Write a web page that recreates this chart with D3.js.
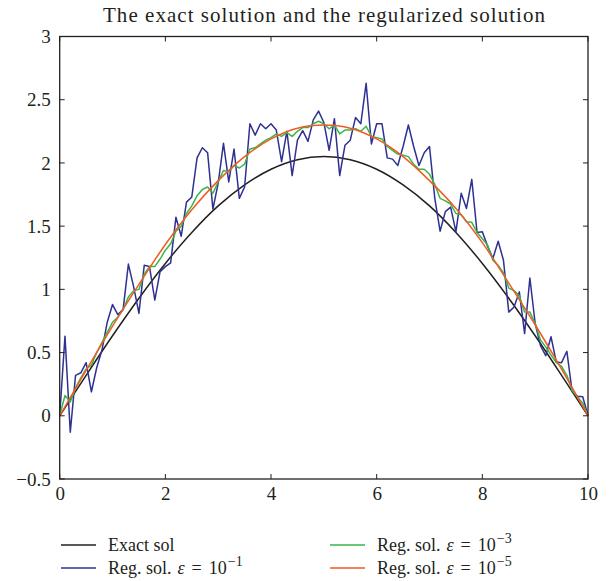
<!DOCTYPE html>
<html>
<head>
<meta charset="utf-8">
<script src="https://cdn.jsdelivr.net/npm/d3@7"></script>
<style>
  html, body { margin: 0; padding: 0; background: #fff; }
  svg { display: block; }
  text { font-family: "Liberation Serif", "DejaVu Serif", serif; fill: #231f20; }
</style>
</head>
<body>
<svg id="chart" width="614" height="581"></svg>
<script>
// Grid of the discrete solutions: x = 0, 0.1, ..., 10
const xFine = d3.range(101).map(i => +(i * 0.1).toFixed(1));
// Grid of the smooth curves: x = 0, 0.5, ..., 10
const xCoarse = d3.range(21).map(i => i * 0.5);

const exactSol = [0, 0.32, 0.633, 0.93, 1.205, 1.45, 1.66, 1.826, 1.95, 2.025, 2.05,
                  2.025, 1.95, 1.826, 1.66, 1.45, 1.205, 0.93, 0.633, 0.32, 0];

const regEps5 = [0, 0.36, 0.71, 1.04, 1.355, 1.63, 1.86, 2.05, 2.19, 2.275, 2.30,
                 2.275, 2.19, 2.05, 1.86, 1.64, 1.37, 1.05, 0.72, 0.37, 0];

const regEps1 = [0, 0.63, -0.13, 0.32, 0.34, 0.42, 0.19, 0.38, 0.52, 0.74,
                 0.88, 0.80, 0.84, 1.20, 1.02, 0.81, 1.19, 1.18, 0.915, 1.14,
                 1.18, 1.21, 1.57, 1.42, 1.69, 1.73, 2.04, 2.12, 2.08, 1.635,
                 1.84, 2.155, 1.85, 2.11, 1.72, 1.81, 2.31, 2.22, 2.31, 2.27,
                 2.31, 2.26, 2.01, 2.25, 1.90, 2.18, 2.255, 2.17, 2.34, 2.41,
                 2.32, 2.10, 2.35, 1.90, 2.14, 2.18, 2.36, 2.31, 2.63, 2.15,
                 2.31, 2.31, 2.04, 2.03, 1.98, 2.13, 2.30, 2.13, 1.98, 2.08,
                 2.13, 1.72, 1.46, 1.615, 1.65, 1.455, 1.76, 1.64, 1.87, 1.45,
                 1.455, 1.34, 1.245, 1.38, 1.23, 0.82, 0.86, 0.98, 0.65, 1.09,
                 0.73, 0.555, 0.475, 0.625, 0.425, 0.42, 0.51, 0.19, 0.155, 0.15,
                 0];

const regEps3 = [0, 0.16, 0.11, 0.22, 0.30, 0.37, 0.40, 0.50, 0.58, 0.66,
                 0.74, 0.78, 0.84, 0.94, 0.99, 1.00, 1.12, 1.18, 1.18, 1.24,
                 1.31, 1.36, 1.46, 1.50, 1.60, 1.66, 1.74, 1.79, 1.81, 1.76,
                 1.85, 1.94, 1.93, 1.98, 1.96, 1.99, 2.11, 2.12, 2.15, 2.18,
                 2.20, 2.23, 2.21, 2.24, 2.21, 2.25, 2.28, 2.28, 2.31, 2.33,
                 2.31, 2.27, 2.30, 2.23, 2.26, 2.26, 2.27, 2.25, 2.29, 2.21,
                 2.20, 2.19, 2.13, 2.10, 2.07, 2.06, 2.05, 1.99, 1.95, 1.95,
                 1.91, 1.83, 1.72, 1.70, 1.675, 1.60, 1.59, 1.535, 1.53, 1.45,
                 1.40, 1.35, 1.23, 1.19, 1.13, 1.01, 0.99, 0.95, 0.82, 0.82,
                 0.73, 0.60, 0.545, 0.48, 0.42, 0.39, 0.32, 0.20, 0.15, 0.10,
                 0];

const xTicks = [0, 2, 4, 6, 8, 10];
const yTicks = [-0.5, 0, 0.5, 1, 1.5, 2, 2.5, 3];

const colors = { exact: "#231f20", eps1: "#2e3192", eps3: "#39b54a", eps5: "#f15a24" };

const svg = d3.select("#chart");
const plot = { left: 59.7, right: 588, top: 36.5, bottom: 479 };

const x = d3.scaleLinear().domain([0, 10]).range([plot.left, plot.right]);
const y = d3.scaleLinear().domain([-0.5, 3]).range([plot.bottom, plot.top]);

const fmt = v => (v < 0 ? "\u2212" + Math.abs(v) : String(v));

// Title
svg.append("text")
  .attr("x", 103)
  .attr("y", 22)
  .attr("textLength", 442)
  .attr("lengthAdjust", "spacing")
  .style("font-size", "21px")
  .text("The exact solution and the regularized solution");

// Curves
const lines = svg.append("g");
const polyline = d3.line().x(d => x(d[0])).y(d => y(d[1]));
const smooth = d3.line().curve(d3.curveCatmullRom.alpha(0.5)).x(d => x(d[0])).y(d => y(d[1]));

lines.append("path")
  .attr("d", smooth(d3.zip(xCoarse, exactSol)))
  .attr("fill", "none").attr("stroke", colors.exact).attr("stroke-width", 1.5);
lines.append("path")
  .attr("d", polyline(d3.zip(xFine, regEps1)))
  .attr("fill", "none").attr("stroke", colors.eps1).attr("stroke-width", 1.5)
  .attr("stroke-linejoin", "round");
lines.append("path")
  .attr("d", polyline(d3.zip(xFine, regEps3)))
  .attr("fill", "none").attr("stroke", colors.eps3).attr("stroke-width", 1.5)
  .attr("stroke-linejoin", "round");
lines.append("path")
  .attr("d", smooth(d3.zip(xCoarse, regEps5)))
  .attr("fill", "none").attr("stroke", colors.eps5).attr("stroke-width", 1.5);

// Axes: ticks on all four sides pointing inward, labels on bottom and left
const tickLen = 5;
const axisBottom = d3.axisBottom(x).tickValues(xTicks).tickSize(0).tickPadding(8).tickFormat(fmt);
const axisLeft = d3.axisLeft(y).tickValues(yTicks).tickSize(0).tickPadding(9).tickFormat(fmt);

const gx = svg.append("g").attr("transform", `translate(0,${plot.bottom})`).call(axisBottom);
const gy = svg.append("g").attr("transform", `translate(${plot.left},0)`).call(axisLeft);
[gx, gy].forEach(g => {
  g.select(".domain").remove();
  g.selectAll("text").style("font-size", "19px")
    .style("font-family", '"Liberation Serif", "DejaVu Serif", serif').attr("fill", "#231f20");
});

const ticks = svg.append("g").attr("stroke", "#231f20").attr("stroke-width", 1);
xTicks.forEach(v => {
  ticks.append("line").attr("x1", x(v)).attr("x2", x(v)).attr("y1", plot.bottom).attr("y2", plot.bottom - tickLen);
  ticks.append("line").attr("x1", x(v)).attr("x2", x(v)).attr("y1", plot.top).attr("y2", plot.top + tickLen);
});
yTicks.forEach(v => {
  ticks.append("line").attr("y1", y(v)).attr("y2", y(v)).attr("x1", plot.left).attr("x2", plot.left + tickLen);
  ticks.append("line").attr("y1", y(v)).attr("y2", y(v)).attr("x1", plot.right).attr("x2", plot.right - tickLen);
});

svg.append("rect")
  .attr("x", plot.left).attr("y", plot.top)
  .attr("width", plot.right - plot.left).attr("height", plot.bottom - plot.top)
  .attr("fill", "none").attr("stroke", "#231f20").attr("stroke-width", 1.3);

// Legend
const legendItems = [
  { key: "exact", col: 0, row: 0, label: "Exact sol" },
  { key: "eps1", col: 0, row: 1, label: "Reg. sol.", exp: "\u22121" },
  { key: "eps3", col: 1, row: 0, label: "Reg. sol.", exp: "\u22123" },
  { key: "eps5", col: 1, row: 1, label: "Reg. sol.", exp: "\u22125" }
];
const legend = svg.append("g");
legendItems.forEach(it => {
  const lx = it.col === 0 ? 61 : 330;
  const ly = it.row === 0 ? 545 : 568;
  legend.append("line")
    .attr("x1", lx).attr("x2", lx + 35).attr("y1", ly).attr("y2", ly)
    .attr("stroke", colors[it.key]).attr("stroke-width", 1.3);
  const t = legend.append("text")
    .attr("x", lx + 47).attr("y", ly + 6)
    .style("font-size", "18px");
  t.append("tspan").text(it.label);
  if (it.exp) {
    t.append("tspan").attr("dx", 6).style("font-style", "italic").text("\u03b5");
    t.append("tspan").attr("dx", 7).text("=");
    t.append("tspan").attr("dx", 7).text("10");
    t.append("tspan").attr("dx", 1).attr("dy", -8).style("font-size", "14px").text(it.exp);
  }
});
</script>
</body>
</html>
